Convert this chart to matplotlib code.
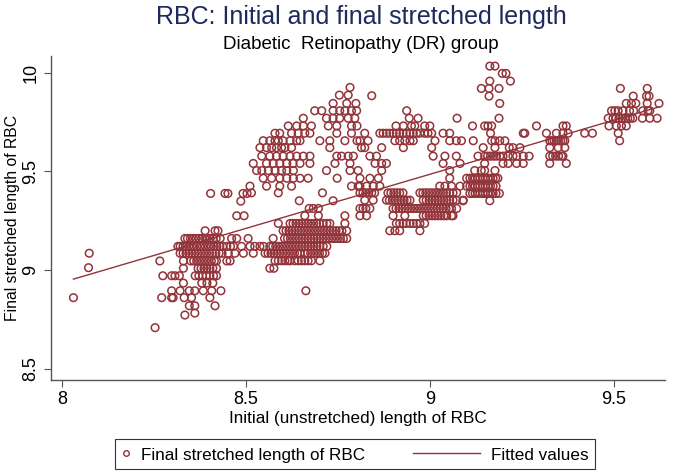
import numpy as np
import matplotlib
matplotlib.use("Agg")
import matplotlib.pyplot as plt
from matplotlib.lines import Line2D
from matplotlib.legend_handler import HandlerLine2D

plt.rcParams['font.family'] = ['Liberation Sans', 'DejaVu Sans']

# Each cluster is a list of rows: (final stretched length, [initial lengths])
outliers = [
    (8.860, [8.031]),
    (9.012, [8.072]),
    (9.085, [8.074]),
    (8.708, [8.253]),
    (8.895, [8.663]),
]

cluster_low_left = [
    (9.425, [8.511]),
    (9.388, [8.404, 8.443, 8.451, 8.492, 8.503]),
    (9.349, [8.486]),
    (9.275, [8.475, 8.495]),
    (9.199, [8.389, 8.416, 8.424]),
    (9.160, [8.334, 8.341, 8.349, 8.357, 8.364, 8.372, 8.380, 8.388, 8.395, 8.403,
             8.411, 8.419, 8.430, 8.461, 8.475, 8.506]),
    (9.120, [8.315, 8.321, 8.329, 8.336, 8.344, 8.352, 8.359, 8.367, 8.375, 8.382,
             8.390, 8.398, 8.405, 8.413, 8.421, 8.429, 8.437, 8.448, 8.458, 8.466,
             8.488, 8.511, 8.524, 8.538]),
    (9.085, [8.321, 8.329, 8.337, 8.345, 8.353, 8.361, 8.369, 8.377, 8.385, 8.393,
             8.401, 8.409, 8.418, 8.427, 8.435, 8.452, 8.470, 8.493, 8.520]),
    (9.046, [8.266, 8.330, 8.350, 8.358, 8.366, 8.374, 8.382, 8.390, 8.398, 8.406,
             8.414, 8.420, 8.448, 8.457]),
    (9.009, [8.330, 8.370, 8.378, 8.386, 8.394, 8.402, 8.410, 8.420]),
    (8.971, [8.274, 8.298, 8.307, 8.319, 8.362, 8.372, 8.382, 8.392, 8.402, 8.412, 8.420]),
    (8.934, [8.330, 8.380, 8.394, 8.410]),
    (8.895, [8.298, 8.321, 8.346, 8.361, 8.384, 8.407, 8.432]),
    (8.860, [8.271, 8.298, 8.302, 8.332, 8.352, 8.402]),
    (8.819, [8.346, 8.361, 8.416]),
    (8.782, [8.361]),
    (8.772, [8.334]),
]

cluster_mid_upper = [
    (9.925, [8.783]),
    (9.886, [8.754, 8.778]),
    (9.844, [8.737, 8.774, 8.799]),
    (9.807, [8.687, 8.706, 8.737, 8.755, 8.769, 8.787, 8.801]),
    (9.769, [8.656, 8.719, 8.737, 8.755, 8.778, 8.796]),
    (9.730, [8.615, 8.638, 8.656, 8.678, 8.724, 8.747, 8.787, 8.802]),
    (9.693, [8.579, 8.592, 8.624, 8.642, 8.660, 8.674, 8.747, 8.787]),
    (9.655, [8.547, 8.565, 8.579, 8.588, 8.601, 8.620, 8.638, 8.647, 8.701, 8.728,
             8.769, 8.802]),
    (9.620, [8.538, 8.556, 8.570, 8.583, 8.597, 8.606, 8.624, 8.728]),
    (9.577, [8.543, 8.565, 8.583, 8.601, 8.620, 8.638, 8.656, 8.674, 8.747, 8.760,
             8.778, 8.792]),
    (9.540, [8.520, 8.556, 8.574, 8.592, 8.611, 8.628, 8.647, 8.674, 8.742, 8.783]),
    (9.504, [8.529, 8.543, 8.561, 8.579, 8.597, 8.611, 8.629, 8.719, 8.783, 8.805]),
    (9.465, [8.547, 8.570, 8.592, 8.611, 8.629, 8.647, 8.669, 8.748]),
    (9.425, [8.556, 8.592, 8.624, 8.787, 8.805]),
    (9.391, [8.515, 8.588, 8.708]),
    (9.351, [8.645, 8.737]),
    (9.312, [8.672, 8.683, 8.697]),
    (9.275, [8.660, 8.697, 8.769]),
]

cluster_mid_lower = [
    (9.236, [8.588, 8.620, 8.628, 8.636, 8.644, 8.652, 8.660, 8.668, 8.676, 8.684,
             8.692, 8.700, 8.710, 8.720, 8.728, 8.769]),
    (9.199, [8.601, 8.609, 8.617, 8.625, 8.633, 8.641, 8.649, 8.657, 8.665, 8.673,
             8.681, 8.689, 8.697, 8.705, 8.713, 8.721, 8.729, 8.737, 8.745, 8.753,
             8.761, 8.774]),
    (9.160, [8.574, 8.605, 8.613, 8.621, 8.629, 8.637, 8.645, 8.653, 8.661, 8.669,
             8.677, 8.685, 8.693, 8.701, 8.709, 8.717, 8.725, 8.733, 8.741, 8.749,
             8.757, 8.765, 8.774]),
    (9.120, [8.548, 8.565, 8.573, 8.581, 8.589, 8.597, 8.605, 8.613, 8.621, 8.629,
             8.637, 8.645, 8.653, 8.661, 8.669, 8.677, 8.685, 8.693, 8.701, 8.710,
             8.720]),
    (9.085, [8.552, 8.560, 8.568, 8.576, 8.584, 8.592, 8.600, 8.608, 8.616, 8.624,
             8.632, 8.640, 8.647, 8.660, 8.668, 8.676, 8.684, 8.692, 8.700, 8.708,
             8.715]),
    (9.047, [8.579, 8.588, 8.597, 8.606, 8.614, 8.620, 8.633, 8.642, 8.651, 8.660,
             8.669, 8.678, 8.701]),
    (9.009, [8.565, 8.576]),
]

cluster_right_upper = [
    (9.883, [8.842]),
    (9.807, [8.937]),
    (9.769, [8.944, 8.968, 9.074]),
    (9.730, [8.908, 8.928, 8.950, 8.959, 8.986, 9.000, 9.116]),
    (9.693, [8.823, 8.864, 8.873, 8.882, 8.891, 8.900, 8.909, 8.918, 8.927, 8.936,
             8.946, 8.955, 8.964, 8.973, 8.986, 8.995, 9.005, 9.036, 9.054]),
    (9.655, [8.810, 8.832, 8.905, 8.918, 8.932, 8.946, 8.955, 9.014, 9.054, 9.072,
             9.086, 9.118]),
    (9.620, [8.814, 8.823, 8.869, 8.928, 9.005]),
    (9.577, [8.837, 8.855, 9.009, 9.041, 9.072]),
    (9.540, [8.851, 8.869, 8.882, 9.036, 9.082]),
    (9.504, [8.869, 9.054]),
    (9.465, [8.810, 8.837, 8.860, 9.054, 9.100]),
    (9.425, [8.810, 8.828, 8.846, 8.864, 9.027, 9.041, 9.059, 9.082, 9.100]),
]

cluster_right_lower = [
    (9.391, [8.810, 8.818, 8.826, 8.834, 8.842, 8.850, 8.886, 8.894, 8.902, 8.910,
             8.918, 8.927, 8.973, 8.981, 8.989, 8.997, 9.005, 9.013, 9.021, 9.029,
             9.037, 9.045, 9.054, 9.063, 9.073]),
    (9.354, [8.823, 8.846, 8.882, 8.890, 8.898, 8.906, 8.914, 8.922, 8.930, 8.938,
             8.946, 8.982, 8.990, 8.998, 9.006, 9.014, 9.022, 9.030, 9.038, 9.046,
             9.054, 9.063, 9.072, 9.091]),
    (9.312, [8.810, 8.818, 8.826, 8.837, 8.900, 8.908, 8.916, 8.924, 8.932, 8.940,
             8.948, 8.956, 8.964, 8.972, 8.980, 8.988, 8.996, 9.004, 9.012, 9.020,
             9.028, 9.036, 9.044, 9.052, 9.059, 9.073]),
    (9.275, [8.810, 8.828, 8.900, 8.932, 8.982, 8.990, 8.998, 9.006, 9.014, 9.022,
             9.030, 9.038, 9.046, 9.059, 9.063]),
    (9.236, [8.909, 8.918, 8.927, 8.936, 8.946, 8.955, 8.964, 8.973, 8.986]),
    (9.199, [8.891, 8.905, 8.918, 8.973]),
]

cluster_915 = [
    (10.033, [9.163, 9.177]),
    (9.996, [9.197, 9.207]),
    (9.957, [9.163, 9.219]),
    (9.920, [9.140, 9.161, 9.188]),
    (9.881, [9.161]),
    (9.844, [9.190]),
    (9.769, [9.188]),
    (9.730, [9.149, 9.158, 9.168]),
    (9.693, [9.165, 9.254, 9.258]),
    (9.655, [9.168, 9.177, 9.190, 9.204]),
    (9.620, [9.145, 9.177, 9.216, 9.226, 9.245]),
    (9.577, [9.131, 9.149, 9.157, 9.165, 9.173, 9.181, 9.190, 9.199, 9.213, 9.226,
             9.236, 9.254, 9.270]),
    (9.540, [9.149, 9.199, 9.213, 9.236, 9.254]),
    (9.504, [9.122, 9.140, 9.149, 9.177]),
    (9.465, [9.109, 9.116, 9.123, 9.130, 9.137, 9.144, 9.151, 9.158, 9.165, 9.172,
             9.179, 9.185]),
    (9.425, [9.109, 9.116, 9.123, 9.130, 9.137, 9.144, 9.151, 9.158, 9.165, 9.172,
             9.180]),
    (9.388, [9.109, 9.116, 9.123, 9.130, 9.137, 9.144, 9.151, 9.158, 9.165, 9.172,
             9.180, 9.189]),
    (9.351, [9.090, 9.163]),
]

cluster_935 = [
    (9.730, [9.290, 9.362, 9.371]),
    (9.693, [9.317, 9.344, 9.362, 9.376, 9.421, 9.442]),
    (9.655, [9.326, 9.332, 9.338, 9.344, 9.350, 9.356, 9.362, 9.367]),
    (9.620, [9.326, 9.349, 9.367]),
    (9.577, [9.326, 9.334, 9.342, 9.350, 9.358, 9.362]),
    (9.540, [9.326, 9.371]),
]

cluster_955 = [
    (9.920, [9.518, 9.591]),
    (9.881, [9.553, 9.589, 9.596]),
    (9.844, [9.534, 9.548, 9.560, 9.591, 9.623]),
    (9.807, [9.494, 9.503, 9.512, 9.525, 9.543, 9.554, 9.579, 9.593, 9.598]),
    (9.769, [9.485, 9.498, 9.506, 9.514, 9.522, 9.530, 9.538, 9.545, 9.552, 9.578,
             9.598, 9.618]),
    (9.730, [9.487, 9.507, 9.521, 9.534]),
    (9.693, [9.512]),
    (9.655, [9.516]),
]

# fitted values line (final = intercept + slope * initial)
fit_intercept = 4.553
fit_slope = 0.548

clusters = [outliers, cluster_low_left, cluster_mid_upper, cluster_mid_lower,
            cluster_right_upper, cluster_right_lower, cluster_915, cluster_935,
            cluster_955]

initial = []
final = []
for cluster in clusters:
    for y, xs in cluster:
        for x in xs:
            initial.append(x)
            final.append(y)
initial = np.array(initial)
final = np.array(final)

fit_x = np.array([initial.min(), initial.max()])
fit_y = fit_intercept + fit_slope * fit_x

red = "#93343a"


# legend line handle drawn longer than the (short) handle box
class LongLineHandler(HandlerLine2D):
    def create_artists(self, legend, orig_handle, xdescent, ydescent, width,
                       height, fontsize, trans):
        artists = super().create_artists(legend, orig_handle, xdescent, ydescent,
                                         width, height, fontsize, trans)
        right = -xdescent + width
        y0 = artists[0].get_ydata()[0]
        artists[0].set_data([right - 3.9 * fontsize, right], [y0, y0])
        return artists


fig = plt.figure(figsize=(6.75, 4.75), dpi=100)
ax = fig.add_axes([0.075, 0.2, 0.91, 0.682])

ax.scatter(initial, final, s=30, facecolors="none", edgecolors=red, linewidths=1.1)
ax.plot(fit_x, fit_y, color=red, linewidth=1.0)

ax.set_xlim(7.969, 9.639)
ax.set_ylim(8.443, 10.084)
ax.set_xticks([8, 8.5, 9, 9.5])
ax.set_xticklabels(["8", "8.5", "9", "9.5"])
ax.set_yticks([8.5, 9, 9.5, 10])
ax.set_yticklabels(["8.5", "9", "9.5", "10"], rotation=90, va="center")

for side in ["top", "right"]:
    ax.spines[side].set_visible(False)
for side in ["left", "bottom"]:
    ax.spines[side].set_color("#555555")
    ax.spines[side].set_linewidth(1.0)
ax.tick_params(direction="out", length=5, color="#555555", labelsize=13, pad=3)

ax.set_xlabel("Initial (unstretched) length of RBC", fontsize=12.3, labelpad=2)
ax.set_ylabel("Final stretched length of RBC", fontsize=11.3)
ax.yaxis.set_label_coords(-0.05, 0.5)

fig.text(0.535, 0.964, "RBC: Initial and final stretched length", ha="center",
         va="center", fontsize=18, color="#1c2a5c")
fig.text(0.535, 0.907, "Diabetic  Retinopathy (DR) group", ha="center",
         va="center", fontsize=13.5, color="black")

marker_handle = Line2D([], [], marker="o", linestyle="none", markerfacecolor="none",
                       markeredgecolor=red, markersize=4, markeredgewidth=1.0)
line_handle = Line2D([], [], color=red, linewidth=1.0)
leg = fig.legend([marker_handle, line_handle],
                 ["Final stretched length of RBC", "Fitted values"],
                 handler_map={line_handle: LongLineHandler()},
                 loc="center", bbox_to_anchor=(0.526, 0.044), ncol=2,
                 fontsize=12.3, frameon=True, fancybox=False, edgecolor="black",
                 columnspacing=6.2, handlelength=0.5, handletextpad=0.65,
                 handleheight=1.1, borderpad=0.4)
leg.get_frame().set_linewidth(0.8)

fig.savefig("out.png", dpi=100)
